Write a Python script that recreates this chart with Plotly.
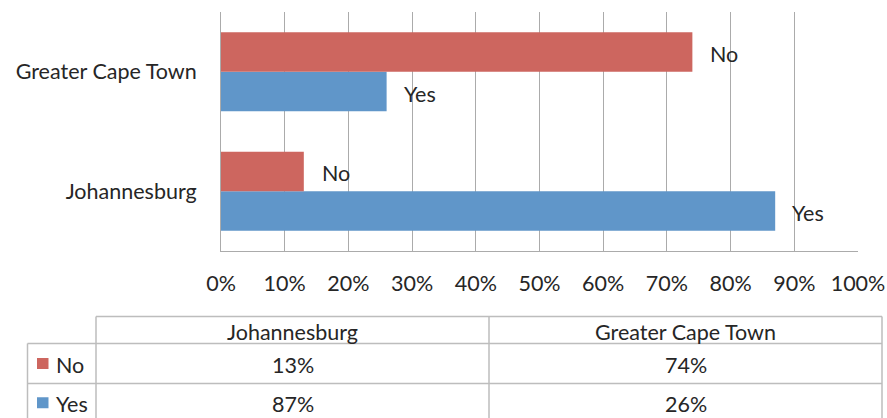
import plotly.graph_objects as go

# Survey responses by city (percent)
cities = ["Johannesburg", "Greater Cape Town"]
series_names = ["No", "Yes"]
no_values = [13, 74]
yes_values = [87, 26]
x_ticks = [0, 10, 20, 30, 40, 50, 60, 70, 80, 90, 100]
x_tick_labels = [f"{t}%" for t in x_ticks]

RED = "#CD665F"
BLUE = "#6096C9"
GRID = "#ABABAB"
TABLE_LINE = "#BDBDBD"
TEXT = "#262626"
FONT = "Lato"
FS = 21.5

W, H = 887, 418
ML, MR, MT, MB = 221, 29, 12, 167
PW = W - ML - MR
PH = H - MT - MB


def px(x):
    return (x - ML) / PW


def py(y):
    return (H - MB - y) / PH


fig = go.Figure()
# Yes first so that "No" sits above it within each group
fig.add_trace(go.Bar(y=cities, x=yes_values, name="Yes", orientation="h",
                     marker=dict(color=BLUE, line=dict(width=0))))
fig.add_trace(go.Bar(y=cities, x=no_values, name="No", orientation="h",
                     marker=dict(color=RED, line=dict(width=0))))

annotations = []
# Series labels just past the bar ends
for city, v in zip(cities, no_values):
    annotations.append(dict(x=v, y=city, xref="x", yref="y", text="No",
                            showarrow=False, xanchor="left", yanchor="middle",
                            xshift=16, yshift=18))
for city, v in zip(cities, yes_values):
    annotations.append(dict(x=v, y=city, xref="x", yref="y", text="Yes",
                            showarrow=False, xanchor="left", yanchor="middle",
                            xshift=15, yshift=-22))

# Data table beneath the chart
shapes = []
line = dict(color=TABLE_LINE, width=1.5)
x_left, x_head, x_mid, x_right = 27.5, 96, 489, 882
y_top, y_head, y_row1, y_bot = 316.5, 343.5, 383.5, 424
for (x0, y0, x1, y1) in [
    (x_head, y_top, x_right, y_top),
    (x_left, y_head, x_right, y_head),
    (x_left, y_row1, x_right, y_row1),
    (x_left, y_bot, x_right, y_bot),
    (x_left, y_head, x_left, y_bot),
    (x_head, y_top, x_head, y_bot),
    (x_mid, y_top, x_mid, y_bot),
    (x_right, y_top, x_right, y_bot),
]:
    shapes.append(dict(type="line", xref="paper", yref="paper",
                       x0=px(x0), y0=py(y0), x1=px(x1), y1=py(y1), line=line))

col_centers = [(x_head + x_mid) / 2, (x_mid + x_right) / 2]
row_centers = [(y_head + y_row1) / 2 + 1, (y_row1 + y_bot) / 2]
header_y = (y_top + y_head) / 2 + 2

for cx, city in zip(col_centers, cities):
    annotations.append(dict(x=px(cx), y=py(header_y), xref="paper", yref="paper",
                            text=city, showarrow=False, xanchor="center",
                            yanchor="middle"))

table_rows = [("No", RED, no_values), ("Yes", BLUE, yes_values)]
for (name, color, vals), cy in zip(table_rows, row_centers):
    shapes.append(dict(type="rect", xref="paper", yref="paper",
                       x0=px(37), x1=px(48.5), y0=py(cy - 6.5), y1=py(cy + 4.5),
                       fillcolor=color, line=dict(width=0)))
    annotations.append(dict(x=px(54), y=py(cy), xref="paper", yref="paper",
                            text=name, showarrow=False, xanchor="left",
                            yanchor="middle"))
    for cx, v in zip(col_centers, vals):
        annotations.append(dict(x=px(cx), y=py(cy), xref="paper", yref="paper",
                                text=f"{v}%", showarrow=False, xanchor="center",
                                yanchor="middle"))

fig.update_layout(
    width=W, height=H,
    margin=dict(l=ML, r=MR, t=MT, b=MB, pad=0, autoexpand=False),
    paper_bgcolor="white", plot_bgcolor="white",
    font=dict(family=FONT, size=FS, color=TEXT),
    barmode="group", bargap=0.34, bargroupgap=0,
    showlegend=False,
    annotations=annotations,
    shapes=shapes,
)
fig.update_xaxes(range=[0, 100], tickmode="array", tickvals=x_ticks,
                 ticktext=x_tick_labels, automargin=False,
                 showgrid=True, gridcolor=GRID, gridwidth=1,
                 zeroline=False, showline=True, linecolor=GRID, linewidth=1,
                 ticks="", ticklabelstandoff=13, fixedrange=True)
fig.update_yaxes(categoryorder="array", categoryarray=cities, automargin=False,
                 showgrid=False, zeroline=False, showline=True,
                 linecolor=GRID, linewidth=1, ticks="",
                 ticklabelstandoff=19, fixedrange=True)

fig.write_html("out.html")
